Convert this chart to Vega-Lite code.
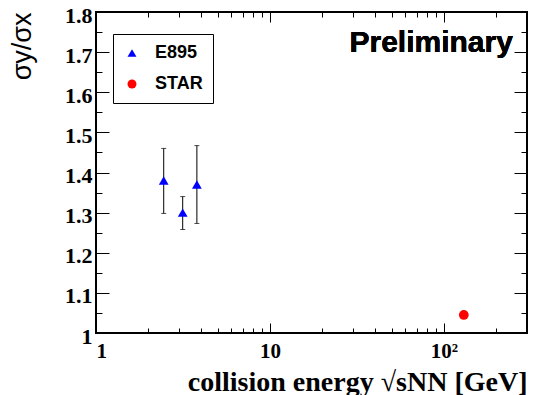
{
  "$schema": "https://vega.github.io/schema/vega-lite/v6.json",
  "width": 431,
  "height": 321,
  "autosize": {"type": "none"},
  "padding": {"left": 96, "top": 12, "right": 7, "bottom": 62},
  "background": "white",
  "config": {
    "view": {"stroke": "black", "strokeWidth": 2},
    "axis": {"domain": false, "grid": false, "tickColor": "black", "tickWidth": 1, "labelColor": "black", "titleColor": "black"},
    "legend": {"strokeColor": "black", "fillColor": "white", "strokeWidth": 1, "padding": 10, "rowPadding": 13, "labelFont": "Liberation Sans", "labelFontWeight": "bold", "labelFontSize": 18, "labelColor": "black", "labelOffset": 14, "symbolSize": 80, "symbolStrokeWidth": 0}
  },
  "data": {
    "values": [
      {"experiment": "E895", "energy": 2.45, "ratio": 1.38, "lo": 1.298, "hi": 1.46},
      {"experiment": "E895", "energy": 3.15, "ratio": 1.30, "lo": 1.258, "hi": 1.34},
      {"experiment": "E895", "energy": 3.8, "ratio": 1.37, "lo": 1.273, "hi": 1.467},
      {"experiment": "STAR", "energy": 130, "ratio": 1.045, "lo": null, "hi": null}
    ]
  },
  "layer": [
    {
      "transform": [{"filter": "isValid(datum.lo)"}],
      "mark": {"type": "errorbar", "rule": {"color": "black", "strokeWidth": 1}, "ticks": {"color": "black", "size": 5}},
      "encoding": {
        "x": {
          "field": "energy", "type": "quantitative",
          "scale": {"type": "log", "domain": [1, 300], "nice": false},
          "axis": {
            "orient": "bottom",
            "values": [1, 2, 3, 4, 5, 6, 7, 8, 9, 10, 20, 30, 40, 50, 60, 70, 80, 90, 100, 200],
            "labelExpr": "datum.value == 1 ? '1' : datum.value == 10 ? '10' : datum.value == 100 ? '10²' : ''",
            "tickSize": {"condition": {"test": "datum.value == 1 || datum.value == 10 || datum.value == 100", "value": -10}, "value": -5},
            "labelPadding": 17,
            "labelFont": "Liberation Serif", "labelFontWeight": "bold", "labelFontSize": 21,
            "title": "collision energy √sNN [GeV]",
            "titleFont": "Liberation Serif", "titleFontWeight": "bold", "titleFontSize": 28,
            "titleAnchor": "end", "titleBaseline": "alphabetic", "titleY": 57
          }
        },
        "y": {
          "field": "lo", "type": "quantitative",
          "scale": {"domain": [1, 1.8], "nice": false, "zero": false},
          "axis": {
            "orient": "left",
            "values": [1, 1.05, 1.1, 1.15, 1.2, 1.25, 1.3, 1.35, 1.4, 1.45, 1.5, 1.55, 1.6, 1.65, 1.7, 1.75, 1.8],
            "labelExpr": "abs(datum.value * 10 - round(datum.value * 10)) < 0.01 ? format(datum.value, '.1~f') : ''",
            "tickSize": {"condition": {"test": "abs(datum.value * 10 - round(datum.value * 10)) < 0.01", "value": -13}, "value": -6},
            "labelPadding": 17,
            "labelOffset": 3,
            "labelFont": "Liberation Serif", "labelFontWeight": "bold", "labelFontSize": 22,
            "title": "σy/σx",
            "titleFont": "Liberation Sans", "titleFontWeight": "normal", "titleFontSize": 27,
            "titleAnchor": "end", "titlePadding": 28
          }
        },
        "y2": {"field": "hi"}
      }
    },
    {
      "mark": {"type": "point", "filled": true, "opacity": 1, "size": 95},
      "encoding": {
        "x": {
          "field": "energy", "type": "quantitative",
          "axis": {
            "orient": "top", "labels": false, "title": null,
            "values": [1, 2, 3, 4, 5, 6, 7, 8, 9, 10, 20, 30, 40, 50, 60, 70, 80, 90, 100, 200],
            "tickSize": {"condition": {"test": "datum.value == 1 || datum.value == 10 || datum.value == 100", "value": -10}, "value": -5}
          }
        },
        "y": {
          "field": "ratio", "type": "quantitative",
          "axis": {
            "orient": "right", "labels": false, "title": null,
            "values": [1, 1.05, 1.1, 1.15, 1.2, 1.25, 1.3, 1.35, 1.4, 1.45, 1.5, 1.55, 1.6, 1.65, 1.7, 1.75, 1.8],
            "tickSize": {"condition": {"test": "abs(datum.value * 10 - round(datum.value * 10)) < 0.01", "value": -13}, "value": -6}
          }
        },
        "color": {
          "field": "experiment", "type": "nominal",
          "scale": {"domain": ["E895", "STAR"], "range": ["#0000ff", "#ff0000"]},
          "legend": {"orient": "none", "legendX": 17, "legendY": 22, "title": null, "labelExpr": "datum.label + '\u00a0\u00a0\u00a0\u00a0\u00a0\u00a0\u00a0\u00a0'"}
        },
        "shape": {
          "field": "experiment", "type": "nominal",
          "scale": {"domain": ["E895", "STAR"], "range": ["triangle-up", "circle"]},
          "legend": {"orient": "none", "legendX": 17, "legendY": 22, "title": null, "labelExpr": "datum.label + '\u00a0\u00a0\u00a0\u00a0\u00a0\u00a0\u00a0\u00a0'"}
        }
      }
    },
    {
      "mark": {"type": "text", "align": "right", "baseline": "alphabetic", "font": "Liberation Sans", "fontWeight": "bold", "fontSize": 30, "color": "black"},
      "encoding": {
        "x": {"datum": 249, "type": "quantitative", "axis": null},
        "y": {"datum": 1.7, "type": "quantitative", "axis": null},
        "text": {"value": "Preliminary"}
      }
    }
  ],
  "resolve": {"axis": {"x": "independent", "y": "independent"}}
}
